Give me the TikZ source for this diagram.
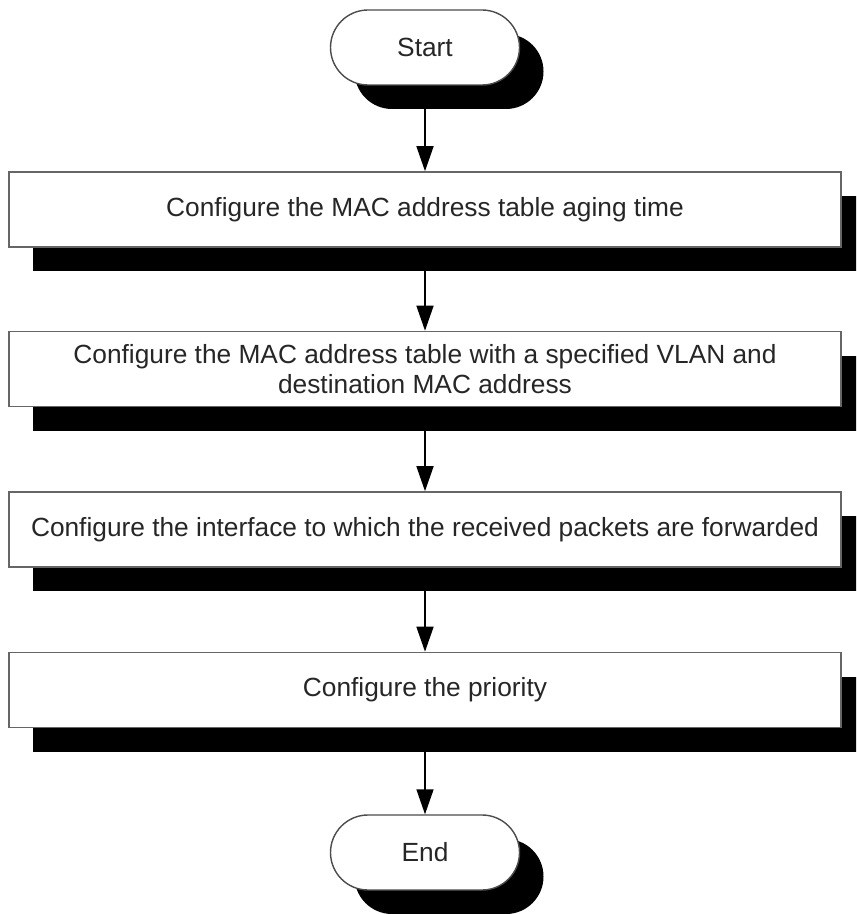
\documentclass[tikz,border=0pt]{standalone}
\usepackage{fontspec}
\setmainfont{Liberation Sans}
\usetikzlibrary{shadows,arrows.meta}
\tikzset{
  sh/.style={general shadow={fill=black, shadow xshift=12pt, shadow yshift=-12pt}},
  stepbox/.style={draw=black!60, line width=0.8pt, fill=white, rectangle,
    minimum width=416pt, minimum height=37.5pt, inner sep=0pt, align=center,
    text=black!85, font=\fontsize{13.15pt}{15pt}\selectfont, sh},
  term/.style={draw=black!70, line width=0.7pt, fill=white, rectangle,
    rounded corners=18.75pt, minimum width=94.5pt, minimum height=37.5pt,
    inner sep=0pt, text=black!85, font=\fontsize{13.15pt}{15pt}\selectfont, sh},
  arr/.style={line width=0.75pt, -{Triangle[length=12.5pt,width=8.5pt]}}
}
\begin{document}
\begin{tikzpicture}[x=0.5pt,y=-0.5pt]
\useasboundingbox (0,0) rectangle (856,914);
\clip (0,0) rectangle (856,914);
\node[term] (start) at (425,47.5) {Start};
\node[stepbox] (b1) at (425,209.5) {Configure the MAC address table aging time};
\node[stepbox] (b2) at (425,369) {Configure the MAC address table with a specified VLAN and\\destination MAC address};
\node[stepbox] (b3) at (425,529.5) {Configure the interface to which the received packets are forwarded};
\node[stepbox] (b4) at (425,690) {Configure the priority};
\node[term] (end) at (425,852.5) {End};
\draw[arr] (start.south) -- (b1.north);
\draw[arr] (b1.south) -- (b2.north);
\draw[arr] (b2.south) -- (b3.north);
\draw[arr] (b3.south) -- (b4.north);
\draw[arr] (b4.south) -- (end.north);
\end{tikzpicture}
\end{document}
